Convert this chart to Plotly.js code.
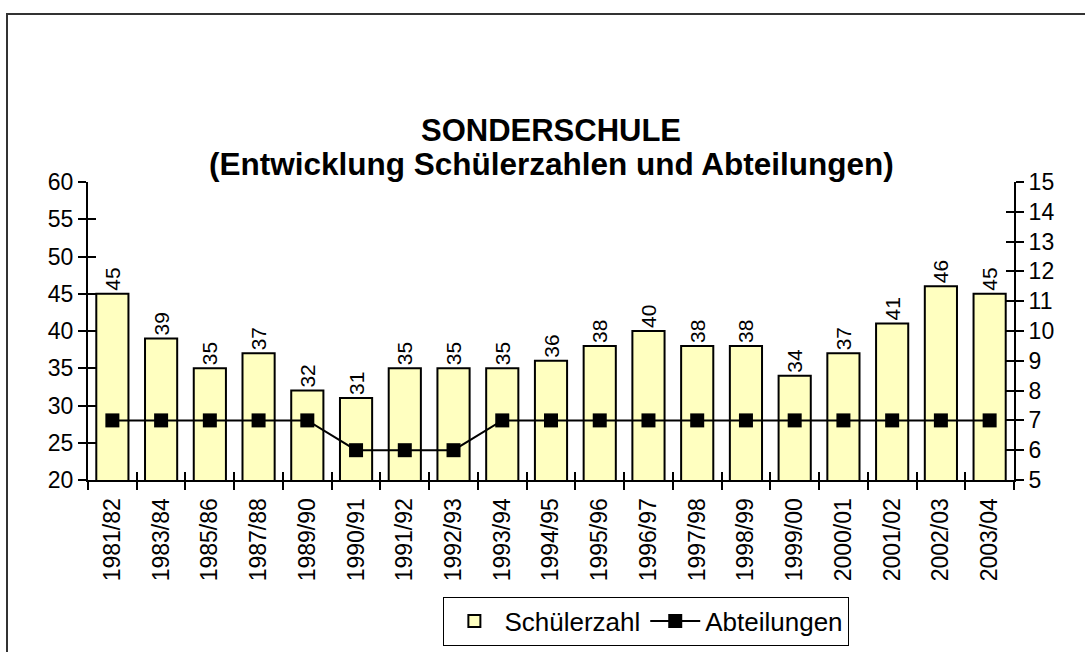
<!DOCTYPE html>
<html>
<head>
<meta charset="utf-8">
<script src="https://cdn.plot.ly/plotly-3.0.1.min.js"></script>
<style>
  html, body { margin: 0; padding: 0; background: #fff; }
  #chart { width: 1085px; height: 652px; position: relative; }
  #frame { position: absolute; left: 6px; top: 13px; width: 1200px; height: 800px;
           border-left: 2px solid #333; border-top: 2px solid #333; pointer-events: none; z-index: 10; }
  #wrap { position: relative; width: 1085px; height: 652px; overflow: hidden; }
</style>
</head>
<body>
<div id="wrap">
  <div id="chart"></div>
  <div id="frame"></div>
</div>
<script>
const categories = ["1981/82","1983/84","1985/86","1987/88","1989/90","1990/91","1991/92","1992/93","1993/94","1994/95","1995/96","1996/97","1997/98","1998/99","1999/00","2000/01","2001/02","2002/03","2003/04"];
const schuelerzahl = [45,39,35,37,32,31,35,35,35,36,38,40,38,38,34,37,41,46,45];
const abteilungen = [7,7,7,7,7,6,6,6,7,7,7,7,7,7,7,7,7,7,7];
const titleLine1 = 'SONDERSCHULE';
const titleLine2 = '(Entwicklung Schülerzahlen und Abteilungen)';

const FONT = '"Liberation Sans", Arial, sans-serif';

const traces = [
  {
    type: 'bar', name: 'Schülerzahl', x: categories, y: schuelerzahl,
    marker: { color: '#ffffc0', line: { color: '#000', width: 2 } },
    texttemplate: '%{y}', textposition: 'outside', textangle: -90,
    textfont: { family: FONT, size: 21, color: '#000' },
    constraintext: 'none', cliponaxis: false, hoverinfo: 'x+y'
  },
  {
    type: 'scatter', mode: 'lines+markers', name: 'Abteilungen', x: categories, y: abteilungen,
    yaxis: 'y2', line: { color: '#000', width: 2 },
    marker: { symbol: 'square', size: 14, color: '#000' }, cliponaxis: false
  },
  { type: 'scatter', mode: 'none', x: categories, y: schuelerzahl, xaxis: 'x2', yaxis: 'y3',
    showlegend: false, hoverinfo: 'skip' },
  { type: 'scatter', mode: 'none', x: categories, y: abteilungen, yaxis: 'y4',
    showlegend: false, hoverinfo: 'skip' }
];

const axisFont = { family: FONT, size: 23, color: '#000' };
const xRange = [-0.5, categories.length - 0.5];
const layout = {
  width: 1085, height: 652,
  margin: { l: 88, r: 71, t: 182, b: 172, pad: 0, autoexpand: false },
  paper_bgcolor: '#fff', plot_bgcolor: 'rgba(0,0,0,0)',
  font: { family: FONT, color: '#000' },
  title: {
    text: '<b>' + titleLine1 + '</b>',
    font: { family: FONT, size: 31, color: '#000' },
    x: 0.5, xref: 'paper', xanchor: 'center',
    y: 1 - 130 / 652, yref: 'container', yanchor: 'middle'
  },
  annotations: [{
    text: '<b>' + titleLine2 + '</b>', xref: 'paper', yref: 'paper',
    x: 0.5, y: 1 + 18 / 298, xanchor: 'center', yanchor: 'middle', showarrow: false,
    font: { family: FONT, size: 31.5, color: '#000' }
  }],
  bargap: 0.34,
  showlegend: true,
  legend: {
    orientation: 'h', x: 0.603, xanchor: 'center', xref: 'paper',
    y: 1 - 621 / 652, yanchor: 'middle', yref: 'container',
    bordercolor: '#000', borderwidth: 1, bgcolor: '#fff',
    font: { family: FONT, size: 26, color: '#000' }, itemwidth: 50,
    traceorder: 'normal'
  },
  xaxis: {
    type: 'category', range: xRange, tickson: 'boundaries', ticks: 'outside', ticklen: 8, tickwidth: 2,
    tickcolor: '#000', showline: true, linecolor: '#000', linewidth: 2,
    showgrid: false, tickangle: -90, tickfont: { family: FONT, size: 23, color: '#000' },
    ticklabelstandoff: 7, fixedrange: true
  },
  xaxis2: {
    type: 'category', range: xRange, overlaying: 'x', anchor: 'y', side: 'bottom', tickson: 'boundaries',
    ticks: 'inside', ticklen: 8, tickwidth: 2, tickcolor: '#000',
    showticklabels: false, showline: false, showgrid: false
  },
  yaxis: {
    range: [20, 60], dtick: 5, tick0: 0, ticks: 'outside', ticklen: 8, tickwidth: 2, tickcolor: '#000',
    showline: true, linecolor: '#000', linewidth: 2, showgrid: false, zeroline: false,
    tickfont: axisFont, ticklabelstandoff: 0
  },
  yaxis2: {
    range: [5, 15], dtick: 1, tick0: 0, overlaying: 'y', side: 'right', anchor: 'x',
    ticks: 'outside', ticklen: 8, tickwidth: 2, tickcolor: '#000',
    showline: true, linecolor: '#000', linewidth: 2, showgrid: false, zeroline: false,
    tickfont: axisFont, ticklabelstandoff: 0
  },
  yaxis3: {
    range: [20, 60], dtick: 5, tick0: 0, overlaying: 'y', side: 'left', anchor: 'x',
    ticks: 'inside', ticklen: 8, tickwidth: 2, tickcolor: '#000',
    showticklabels: false, showline: false, showgrid: false, zeroline: false
  },
  yaxis4: {
    range: [5, 15], dtick: 1, tick0: 0, overlaying: 'y', side: 'right', anchor: 'x',
    ticks: 'inside', ticklen: 8, tickwidth: 2, tickcolor: '#000',
    showticklabels: false, showline: false, showgrid: false, zeroline: false
  }
};

Plotly.newPlot('chart', traces, layout, { displayModeBar: false, staticPlot: true });
</script>
</body>
</html>
